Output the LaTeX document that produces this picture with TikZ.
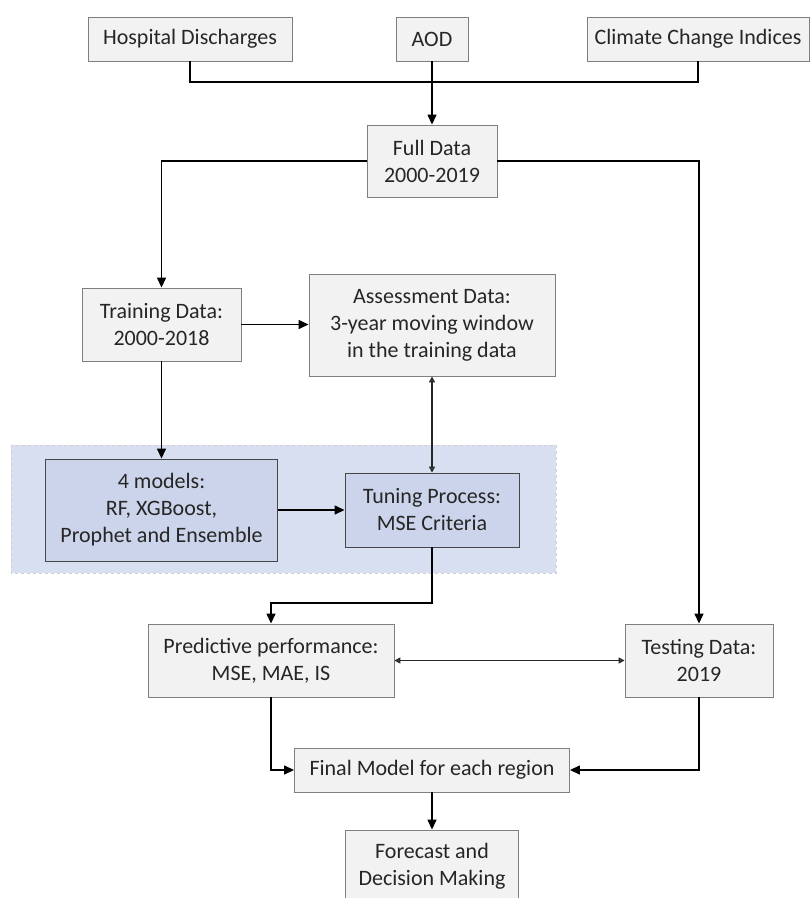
\documentclass[tikz,border=0pt]{standalone}
\usepackage{fontspec}
\setmainfont{Carlito}
\usetikzlibrary{arrows.meta}
\definecolor{boxfill}{HTML}{F2F2F2}
\definecolor{boxline}{HTML}{7F7F7F}
\definecolor{bluebg}{HTML}{D7DFF1}
\definecolor{bluebox}{HTML}{CBD4EA}
\definecolor{txt}{HTML}{262626}
\definecolor{tipblue}{HTML}{4472C4}
\tikzset{
  box/.style={draw=boxline, fill=boxfill, line width=0.9pt, align=center, text=txt,
    font=\fontsize{22}{27}\selectfont, inner sep=0pt},
  innerbox/.style={box, draw=black!72, fill=bluebox},
  arr/.style={draw=black, line width=1.4pt, -{Triangle[length=10pt,width=9pt]}},
  darr/.style={draw=black!85, line width=1.4pt, {Triangle[length=6pt,width=6pt,fill=tipblue]}-{Triangle[length=6pt,width=6pt,fill=tipblue]}},
  plain/.style={draw=black, line width=1.4pt}
}
\begin{document}
\begin{tikzpicture}[x=1pt,y=-1pt]
\clip (0,0) rectangle (812,898);
\fill[white] (0,0) rectangle (812,898);
% blue background region
\draw[fill=bluebg, draw=black!18, dashed, line width=0.8pt] (11,445) rectangle (556,573);
% nodes
\node[box, minimum width=204pt, minimum height=44pt] (hd) at (190,39) {Hospital Discharges};
\node[box, minimum width=72pt, minimum height=44pt] (aod) at (432,39) {AOD};
\node[box, minimum width=222pt, minimum height=44pt] (cc) at (698,39) {Climate Change Indices};
\node[box, minimum width=130pt, minimum height=72pt] (full) at (432,161) {Full Data\\2000-2019};
\node[box, minimum width=159pt, minimum height=73pt] (train) at (161.5,324.5) {Training Data:\\2000-2018};
\node[box, minimum width=246pt, minimum height=102pt] (assess) at (432,325) {Assessment Data:\\3-year moving window\\in the training data};
\node[innerbox, minimum width=232pt, minimum height=102pt] (models) at (161.5,510) {4 models:\\RF, XGBoost,\\Prophet and Ensemble};
\node[innerbox, minimum width=174pt, minimum height=74pt] (tuning) at (432,510) {Tuning Process:\\MSE Criteria};
\node[box, minimum width=246pt, minimum height=73pt] (pred) at (271,660.5) {Predictive performance:\\MSE, MAE, IS};
\node[box, minimum width=148pt, minimum height=73pt] (test) at (699,660.5) {Testing Data:\\2019};
\node[box, minimum width=275pt, minimum height=44pt] (final) at (432,770) {Final Model for each region};
\node[box, minimum width=173pt, minimum height=72pt] (fore) at (432,866) {Forecast and\\Decision Making};
% connectors
\coordinate (join) at (432,82);
\draw[plain] (hd.south) |- (join) -| (cc.south);
\draw[arr] (aod.south) -- (full.north);
\draw[arr] (full.west) -| (train.north);
\draw[arr] (full.east) -| (test.north);
\draw[arr] (train.east) -- (assess.west |- train.east);
\draw[arr] (train.south) -- (train.south |- models.north);
\draw[darr] (assess.south) -- (tuning.north);
\draw[arr] (models.east) -- (tuning.west |- models.east);
\coordinate (bend) at (432,603);
\draw[arr] (tuning.south) -- (bend) -| (pred.north);
\draw[darr] (pred.east) -- (test.west);
\draw[arr] (pred.south) |- (final.west);
\draw[arr] (test.south) |- (final.east);
\draw[arr] (final.south) -- (fore.north);
\end{tikzpicture}
\end{document}
